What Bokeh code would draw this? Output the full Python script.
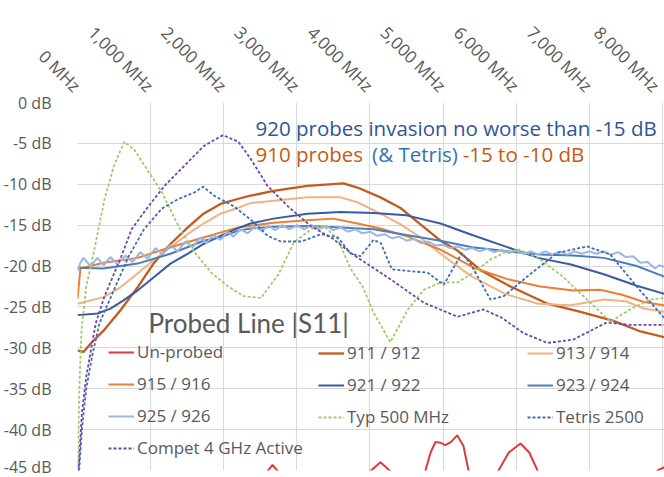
import math
from bokeh.plotting import figure
from bokeh.models import FixedTicker, Legend, LegendItem, Label, Range1d
from bokeh.embed import file_html
from bokeh.resources import INLINE

# ---------------- data ----------------
freq_ticks = [0, 1000, 2000, 3000, 4000, 5000, 6000, 7000, 8000]
freq_tick_labels = ["0 MHz", "1,000 MHz", "2,000 MHz", "3,000 MHz", "4,000 MHz",
                    "5,000 MHz", "6,000 MHz", "7,000 MHz", "8,000 MHz"]
db_ticks = [0, -5, -10, -15, -20, -25, -30, -35, -40, -45]
db_tick_labels = ["0 dB", "-5 dB", "-10 dB", "-15 dB", "-20 dB", "-25 dB",
                  "-30 dB", "-35 dB", "-40 dB", "-45 dB"]

unprobed_f = [0, 500, 1000, 1500, 2000, 2450, 2580, 2668, 2760, 2900, 3300, 3700, 3950,
              4145, 4330, 4550, 4760, 4830, 4897, 4960, 5034, 5110, 5194, 5280, 5349,
              5420, 5600, 5759, 5900, 6060, 6180, 6293, 6450, 6800, 7200, 7600, 7935, 8030]
unprobed_db = [-60, -58, -55, -52, -50, -47, -45.3, -44.3, -45.3, -48, -52, -48, -45.5,
               -44.0, -45.5, -48, -45, -42.8, -41.5, -41.6, -41.9, -41.5, -40.7, -42, -45,
               -48, -50, -45, -42.8, -41.7, -42.8, -45, -48, -52, -52, -50, -45, -44.6]

p911_f = [0, 82, 178, 356, 588, 821, 1040, 1272, 1505, 1724, 1956, 2189, 2367, 2681, 3146,
          3639, 3830, 4145, 4419, 4692, 4966, 5198, 5513, 5923, 6430, 6881, 7332, 7702, 8030]
p911_db = [-30.3, -30.5, -29.5, -27.9, -25.4, -22.6, -19.7, -17.3, -15.3, -13.6, -12.4,
           -11.8, -11.4, -10.8, -10.2, -9.9, -10.4, -11.6, -12.9, -14.9, -16.9, -18.1,
           -20.5, -22.5, -24.6, -25.6, -26.7, -28.0, -28.7]

p913_f = [0, 356, 588, 821, 1040, 1272, 1505, 1724, 1956, 2189, 2367, 2681, 3146, 3600,
          3830, 4145, 4419, 4692, 4966, 5380, 5850, 6300, 6750, 7200, 7500, 7750, 8030]
p913_db = [-24.6, -23.8, -22.6, -20.9, -19.3, -17.7, -16.1, -14.8, -13.6, -12.9, -12.3,
           -12.0, -11.6, -11.6, -12.2, -13.6, -14.9, -16.5, -18.5, -21.2, -23.4, -24.6,
           -24.8, -24.1, -24.3, -25.2, -25.6]

p915_f = [0, 40, 356, 821, 1272, 1724, 2189, 2681, 3146, 3500, 3830, 4145, 4520, 4966,
          5420, 5880, 6330, 6780, 7150, 7450, 7750, 8030]
p915_db = [-24.0, -20.3, -19.6, -19.0, -17.7, -16.5, -15.3, -14.7, -14.4, -14.2, -14.8,
           -15.4, -16.4, -18.0, -20.2, -21.6, -22.5, -23.0, -22.9, -23.5, -24.4, -24.8]

p921_f = [0, 274, 451, 629, 821, 1040, 1272, 1505, 1724, 1956, 2189, 2367, 2681, 3146,
          3600, 4050, 4500, 4966, 5400, 5850, 6300, 6750, 7200, 7650, 8030]
p921_db = [-26.0, -25.8, -25.2, -24.2, -23.0, -21.4, -19.7, -18.5, -17.3, -16.3, -15.4,
           -14.8, -14.2, -13.6, -13.4, -13.5, -13.8, -14.8, -16.2, -17.6, -19.0, -19.8,
           -21.0, -22.4, -23.4]

p923_f = [0, 356, 821, 1272, 1505, 1724, 1956, 2189, 2367, 2681, 3146, 3600, 4050, 4500,
          4966, 5400, 5880, 6330, 6780, 7200, 7650, 8030]
p923_db = [-20.2, -20.3, -19.7, -18.5, -17.7, -16.9, -16.5, -15.7, -15.4, -15.2, -15.1,
           -15.3, -15.5, -16.2, -16.9, -17.7, -18.2, -18.6, -18.7, -19.0, -20.0, -21.3]

p925_f = [0, 40, 82, 178, 274, 356, 451, 547, 657, 752, 862, 958, 1067, 1163, 1272, 1368,
          1477, 1573, 1683, 1765, 1860, 1956, 2052, 2134, 2230, 2330, 2420, 2520, 2610,
          2710, 2800, 2900, 3000, 3100, 3200, 3300, 3400, 3500, 3600, 3700, 3800, 3900,
          4000, 4100, 4200, 4300, 4400, 4500, 4600, 4700, 4800, 4900, 5000, 5100, 5200,
          5300, 5400, 5500, 5600, 5700, 5800, 5900, 6000, 6100, 6200, 6300, 6400, 6500,
          6600, 6700, 6800, 6900, 7000, 7100, 7200, 7300, 7400, 7500, 7600, 7700, 7800,
          7900, 7960, 8030]
p925_db = [-20.6, -19.6, -19.0, -20.0, -19.0, -19.9, -18.9, -19.8, -18.7, -19.5, -18.3,
           -19.1, -17.8, -18.6, -17.4, -18.2, -17.0, -17.7, -16.5, -17.2, -16.2, -16.8,
           -15.8, -16.4, -15.5, -16.0, -15.2, -15.7, -15.1, -15.6, -15.0, -15.5, -15.0,
           -15.5, -15.0, -15.5, -15.1, -15.6, -15.3, -15.8, -15.5, -16.0, -15.8, -16.3,
           -16.1, -16.6, -16.4, -16.9, -16.7, -17.2, -17.0, -17.5, -17.4, -17.8, -17.6,
           -18.0, -17.8, -18.2, -17.9, -18.3, -18.0, -18.4, -18.1, -18.5, -18.2, -18.6,
           -18.2, -18.6, -18.2, -18.6, -18.2, -18.5, -18.2, -18.5, -18.2, -18.6, -18.3,
           -18.9, -18.8, -19.6, -19.5, -20.3, -19.9, -20.1]

typ500_f = [0, 25, 55, 120, 230, 370, 500, 640, 780, 915, 1150, 1380, 1600, 1830, 2060,
            2280, 2510, 2750, 2960, 3230, 3370, 3560, 3740, 3900, 4050, 4280, 4520, 4740,
            4970, 5200, 5420, 5650, 5880, 6050, 6330, 6640, 6970, 7290, 7560, 7830, 8030]
typ500_db = [-46, -35, -27.8, -22.5, -18.0, -11.8, -7.7, -4.8, -5.8, -7.7, -10.9, -15.1,
             -18.3, -20.8, -22.5, -23.7, -23.9, -21.0, -17.1, -15.3, -15.1, -16.7, -20.4,
             -22.5, -25.7, -29.3, -25.3, -22.9, -22.0, -22.0, -20.8, -19.2, -18.2, -18.0,
             -19.2, -21.3, -24.1, -26.8, -25.3, -24.1, -23.9]

tetris_f = [0, 60, 120, 200, 300, 460, 700, 910, 1150, 1380, 1600, 1720, 1870, 2140, 2420,
            2600, 2780, 3060, 3330, 3560, 3740, 3870, 4050, 4150, 4300, 4520, 4790, 5010,
            5260, 5380, 5650, 5830, 6150, 6560, 6970, 7290, 7650, 8030]
tetris_db = [-48, -40, -35, -31, -27, -23.7, -18.8, -15.5, -13.0, -11.8, -11.0, -10.3,
             -11.4, -12.7, -14.7, -16.3, -17.0, -17.0, -16.1, -16.5, -18.5, -18.8, -16.8,
             -17.2, -20.4, -20.6, -20.8, -22.3, -18.4, -19.8, -24.1, -23.7, -21.3, -18.4,
             -17.6, -18.6, -22.5, -26.4]

compet_f = [0, 60, 120, 160, 250, 370, 600, 740, 970, 1190, 1510, 1730, 1990, 2200, 2370,
            2600, 2880, 3190, 3500, 3740, 3870, 4280, 4740, 5200, 5550, 5800, 6100, 6430,
            6780, 7240, 7560, 8030]
compet_db = [-47, -38, -33.5, -31.5, -27, -23.7, -18.8, -15.5, -12.7, -10.2, -7.3, -5.3,
             -4.0, -4.8, -6.9, -10.2, -12.7, -15.1, -16.7, -18.4, -19.2, -21.6, -24.5,
             -26.2, -25.3, -26.3, -28.2, -29.4, -29.0, -26.9, -27.2, -27.2]

# ---------------- styling ----------------
FONT = "Open Sans"
GREY = "#595959"
GRID = "#d9d9d9"

p = figure(width=664, height=477, x_range=Range1d(0, 8030), y_range=Range1d(-45, 0),
           x_axis_location="above", output_backend="svg", toolbar_location=None,
           min_border_top=102, min_border_left=77, min_border_right=0, min_border_bottom=7,
           background_fill_color="white", border_fill_color="white")
p.outline_line_color = None

p.xaxis.ticker = FixedTicker(ticks=freq_ticks)
p.xaxis.major_label_overrides = {t: s for t, s in zip(freq_ticks, freq_tick_labels)}
p.xaxis.major_label_orientation = -math.pi / 4
p.yaxis.ticker = FixedTicker(ticks=db_ticks)
p.yaxis.major_label_overrides = {t: s for t, s in zip(db_ticks, db_tick_labels)}
for ax in (p.xaxis, p.yaxis):
    ax.axis_line_color = None
    ax.major_tick_line_color = None
    ax.minor_tick_line_color = None
    ax.major_label_text_font = FONT
    ax.major_label_text_color = GREY
p.xaxis.major_label_text_font_size = "17px"
p.yaxis.major_label_text_font_size = "16px"
p.yaxis.major_label_standoff = 20
p.xaxis.major_label_standoff = 8

p.xgrid.ticker = FixedTicker(ticks=freq_ticks)
p.ygrid.ticker = FixedTicker(ticks=db_ticks)
p.grid.grid_line_color = GRID
p.grid.grid_line_width = 1

DOT = "3 2"
series = [
    ("Un-probed", unprobed_f, unprobed_db, "#e0393e", 2, "solid"),
    ("911 / 912", p911_f, p911_db, "#c55a1e", 2.3, "solid"),
    ("913 / 914", p913_f, p913_db, "#f4b183", 2, "solid"),
    ("915 / 916", p915_f, p915_db, "#ed7d31", 2, "solid"),
    ("921 / 922", p921_f, p921_db, "#3a5ba0", 2, "solid"),
    ("923 / 924", p923_f, p923_db, "#4a7ebb", 2, "solid"),
    ("925 / 926", p925_f, p925_db, "#9db5e0", 2, "solid"),
    ("Typ 500 MHz", typ500_f, typ500_db, "#9fcb6b", 1.8, DOT),
    ("Tetris 2500", tetris_f, tetris_db, "#3d6fb5", 1.8, DOT),
    ("Compet 4 GHz Active", compet_f, compet_db, "#6f46ac", 1.8, DOT),
]
renderers = {}
for name, xs, ys, col, lw, dash in series:
    renderers[name] = p.line(xs, ys, line_color=col, line_width=lw, line_dash=dash)

legend_cols = [
    (["Un-probed", "915 / 916", "925 / 926", "Compet 4 GHz Active"], (31, 11)),
    (["911 / 912", "921 / 922", "Typ 500 MHz"], (241, 42)),
    (["913 / 914", "923 / 924", "Tetris 2500"], (450, 42)),
]
for names, loc in legend_cols:
    lg = Legend(items=[LegendItem(label=n, renderers=[renderers[n]]) for n in names],
                location=loc, padding=0, margin=0, spacing=9,
                glyph_width=26, glyph_height=22, label_height=22, label_standoff=3,
                label_text_font=FONT, label_text_font_size="17px", label_text_color=GREY,
                border_line_color=None, background_fill_alpha=0)
    p.add_layout(lg, "center")

BLUE_T = "#2f5597"
ORANGE_T = "#c55a11"
TETRIS_T = "#2e75b6"
TXT = "20.5px"
p.add_layout(Label(x=2435, y=-3.07, text="920 probes invasion no worse than -15 dB",
                   text_font=FONT, text_font_size=TXT, text_color=BLUE_T,
                   text_baseline="alphabetic"))
p.add_layout(Label(x=2435, y=-6.3, text="910 probes", text_font=FONT,
                   text_font_size=TXT, text_color=ORANGE_T, text_baseline="alphabetic"))
p.add_layout(Label(x=4030, y=-6.3, text="(& Tetris)", text_font=FONT,
                   text_font_size=TXT, text_color=TETRIS_T, text_baseline="alphabetic"))
p.add_layout(Label(x=5270, y=-6.3, text="-15 to -10 dB", text_font=FONT,
                   text_font_size=TXT, text_color=ORANGE_T, text_baseline="alphabetic"))
p.add_layout(Label(x=971, y=-27.0, text="Probed Line |S11|", text_font="Lato",
                   text_font_size="26px", text_color=GREY, text_baseline="alphabetic"))

open("out.html", "w").write(file_html(p, INLINE))
